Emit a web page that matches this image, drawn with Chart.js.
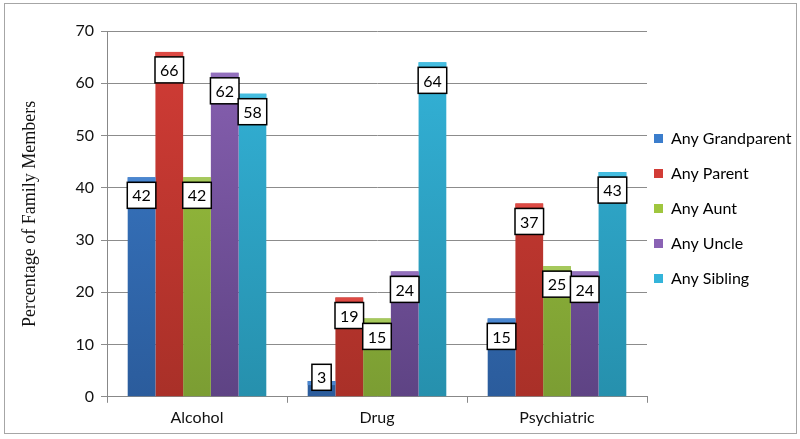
<!DOCTYPE html>
<html>
<head>
<meta charset="utf-8">
<script src="https://cdn.jsdelivr.net/npm/chart.js@4"></script>
<style>
  html, body { margin: 0; padding: 0; background: #fff; }
  #wrap { width: 800px; height: 439px; }
</style>
</head>
<body>
<div id="wrap"><canvas id="chart"></canvas></div>
<script>
const categories = ["Alcohol", "Drug", "Psychiatric"];
const relatives = ["Any Grandparent", "Any Parent", "Any Aunt", "Any Uncle", "Any Sibling"];

const grandparent = [42, 3, 15];
const parent      = [66, 19, 37];
const aunt        = [42, 15, 25];
const uncle       = [62, 24, 24];
const sibling     = [58, 64, 43];

const yTicks = [0, 10, 20, 30, 40, 50, 60, 70];

// top / bottom shades for the gradients, plus the thin cap on top
const topColors    = ["#3b7dcc", "#d23c36", "#9fc63e", "#8a62b4", "#34b4da"];
const bottomColors = ["#2b5c9c", "#a93028", "#7b9d33", "#5e4384", "#2690ad"];
const capColors    = ["#4a86d0", "#dd4a44", "#a6c95c", "#9370bd", "#45bde0"];

const seriesValues = [grandparent, parent, aunt, uncle, sibling];

function gradient(i) {
  return (ctx) => {
    const area = ctx.chart.chartArea;
    if (!area) return topColors[i];
    const g = ctx.chart.ctx.createLinearGradient(0, area.top, 0, area.bottom);
    g.addColorStop(0, topColors[i]);
    g.addColorStop(1, bottomColors[i]);
    return g;
  };
}

const frame = {
  id: "frame",
  beforeInit(chart) {
    // fixed legend width so the plot reaches x=647
    const lg = chart.legend;
    const fit = lg.fit.bind(lg);
    lg.fit = function () { fit(); this.width = 153; };
  },
  afterLayout(chart) {
    const lg = chart.legend;
    lg.left -= 12;
    lg.right = chart.width;
    lg.width = lg.right - lg.left;
    lg.top -= 23; lg.bottom -= 23;
  },
  beforeDraw(chart) {
    const c = chart.ctx;
    c.save();
    c.fillStyle = "#fff";
    c.fillRect(0, 0, chart.width, chart.height);
    c.strokeStyle = "#a6a6a6";
    c.lineWidth = 1;
    c.strokeRect(4.5, 3.5, 792, 430);
    c.restore();
  }
};

const valueBoxes = {
  id: "valueBoxes",
  afterDatasetsDraw(chart) {
    const c = chart.ctx;
    c.save();
    chart.data.datasets.forEach((ds, i) => {
      const meta = chart.getDatasetMeta(i);
      meta.data.forEach((bar) => {
        c.fillStyle = capColors[i];
        c.fillRect(bar.x - bar.width / 2, bar.y, bar.width, 4);
      });
    });
    c.font = "16px Lato, 'Open Sans', sans-serif";
    c.textAlign = "center";
    c.textBaseline = "middle";
    chart.data.datasets.forEach((ds, i) => {
      const meta = chart.getDatasetMeta(i);
      meta.data.forEach((bar, j) => {
        const txt = String(ds.data[j]);
        const w = c.measureText(txt).width + 10;
        const h = 26;
        const top = Math.min(bar.y + 5, bar.base - h - 6);
        const left = bar.x - w / 2;
        c.fillStyle = "#fff";
        c.fillRect(left, top, w, h);
        c.strokeStyle = "#000";
        c.lineWidth = 1.5;
        c.strokeRect(left, top, w, h);
        c.fillStyle = "#000";
        c.fillText(txt, bar.x, top + h / 2 + 1);
      });
    });
    c.restore();
  }
};

new Chart(document.getElementById("chart"), {
  type: "bar",
  data: {
    labels: categories,
    datasets: relatives.map((name, i) => ({
      label: name,
      data: seriesValues[i],
      backgroundColor: gradient(i),
      borderWidth: 0
    }))
  },
  options: {
    responsive: true,
    maintainAspectRatio: false,
    animation: false,
    datasets: {
      bar: { categoryPercentage: 0.77, barPercentage: 1.0 }
    },
    layout: { padding: { top: 31, right: 0, bottom: 7, left: 0 } },
    plugins: {
      legend: {
        position: "right",
        labels: {
          boxWidth: 9,
          boxHeight: 9,
          padding: 19,
          color: "#111",
          font: { family: "Lato, 'Open Sans', sans-serif", size: 16 },
          generateLabels(chart) {
            return chart.data.datasets.map((ds, i) => ({
              text: ds.label,
              fillStyle: topColors[i],
              strokeStyle: topColors[i],
              lineWidth: 0,
              datasetIndex: i
            }));
          }
        }
      },
      tooltip: { enabled: false }
    },
    scales: {
      x: {
        grid: {
          display: true,
          drawOnChartArea: false,
          drawTicks: true,
          tickLength: 6,
          color: "#888"
        },
        border: { color: "#888" },
        ticks: {
          color: "#111",
          padding: 5,
          font: { family: "Lato, 'Open Sans', sans-serif", size: 16 }
        }
      },
      y: {
        min: 0,
        max: 70,
        afterFit(scale) { scale.width = 107; },
        afterBuildTicks(scale) { scale.ticks = yTicks.map(v => ({ value: v })); },
        grid: {
          color: "#8c8c8c",
          tickLength: 6
        },
        border: { color: "#888" },
        ticks: {
          color: "#111",
          padding: 7,
          font: { family: "Lato, 'Open Sans', sans-serif", size: 16 }
        },
        title: {
          display: true,
          text: "Percentage of Family Members",
          color: "#111",
          padding: { top: 19, bottom: 0 },
          font: { family: "'Liberation Serif', 'DejaVu Serif', serif", size: 18 }
        }
      }
    }
  },
  plugins: [frame, valueBoxes]
});
</script>
</body>
</html>
